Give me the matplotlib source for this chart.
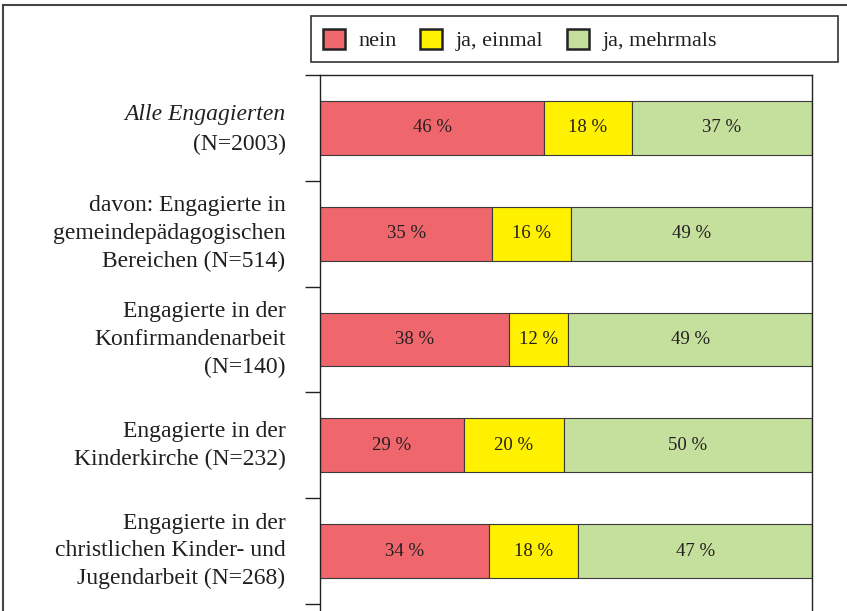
import matplotlib
matplotlib.use("Agg")
import matplotlib.pyplot as plt
from matplotlib.lines import Line2D
from matplotlib.patches import Rectangle, Patch
import numpy as np

plt.rcParams['font.family'] = 'serif'
plt.rcParams['font.serif'] = ['Liberation Serif']

# data: printed percentages per group
groups = [
    "Alle Engagierten\n(N=2003)",
    "davon: Engagierte in\ngemeindepädagogischen\nBereichen (N=514)",
    "Engagierte in der\nKonfirmandenarbeit\n(N=140)",
    "Engagierte in der\nKinderkirche (N=232)",
    "Engagierte in der\nchristlichen Kinder- und\nJugendarbeit (N=268)",
]
nein = [46, 35, 38, 29, 34]
einmal = [18, 16, 12, 20, 18]
mehrmals = [37, 49, 49, 50, 47]
series_names = ["nein", "ja, einmal", "ja, mehrmals"]
colors = ["#F0666D", "#FFF100", "#C5DF9D"]
text_col = "#231F20"

W, H = 847, 611
fig = plt.figure(figsize=(W / 100, H / 100), dpi=100)

ax = fig.add_axes([320 / W, 0.0, (812 - 320) / W, (H - 75) / H])

vals = np.array([nein, einmal, mehrmals], dtype=float)
shares = vals / vals.sum(axis=0) * 100  # bars fill the full width

y = np.arange(len(groups))
left = np.zeros(len(groups))
for k in range(3):
    ax.barh(y, shares[k], left=left, height=0.51, color=colors[k],
            edgecolor="#3a3a3a", linewidth=0.8)
    for i in range(len(groups)):
        ax.text(left[i] + shares[k][i] / 2, y[i], f"{int(vals[k][i])} %",
                ha="center", va="center", fontsize=13.5, color=text_col)
    left += shares[k]

ax.set_xlim(0, 100)
ax.set_ylim(4.5 + 7 / 105.8, -0.5)
ax.set_xticks([])
ax.set_yticks(np.arange(len(groups) + 1) - 0.5)
ax.set_yticklabels([])
ax.tick_params(axis="y", length=11, width=1.0, color="#222222", direction="out")
for s in ["top", "left", "right"]:
    ax.spines[s].set_linewidth(1.0)
    ax.spines[s].set_color("#222222")
ax.spines["bottom"].set_visible(False)

# category labels
lab_x = -0.07
tr = ax.get_yaxis_transform()
ax.text(lab_x, y[0] - 0.125, "Alle Engagierten", transform=tr,
        ha="right", va="center", fontsize=17, style="italic", color=text_col)
ax.text(lab_x, y[0] + 0.155, "(N=2003)", transform=tr,
        ha="right", va="center", fontsize=17, color=text_col)
for i in range(1, len(groups)):
    ax.text(lab_x, y[i], groups[i], transform=tr,
            ha="right", va="center", multialignment="right", fontsize=17,
            linespacing=1.42, color=text_col)

# legend with its own frame
fig.add_artist(Rectangle((311 / W, (H - 62) / H), (838 - 311) / W, 46 / H,
                         transform=fig.transFigure, fill=False,
                         edgecolor="#333333", linewidth=1.2))
handles = [Patch(facecolor=c, edgecolor="#222222", linewidth=1.8) for c in colors]
fig.legend(handles, series_names, loc="center left",
           bbox_to_anchor=(303 / W, (H - 40) / H), ncol=3, frameon=False,
           fontsize=16, handlelength=1.0, handleheight=1.0,
           handletextpad=0.6, columnspacing=1.05, labelcolor=text_col)

# outer frame (top and left edges)
fig.add_artist(Line2D([3 / W, 1.0], [(H - 5) / H, (H - 5) / H],
                      transform=fig.transFigure, color="#444444", linewidth=1.5))
fig.add_artist(Line2D([3 / W, 3 / W], [0, (H - 5) / H],
                      transform=fig.transFigure, color="#444444", linewidth=1.5))

fig.savefig("out.png", dpi=100)
